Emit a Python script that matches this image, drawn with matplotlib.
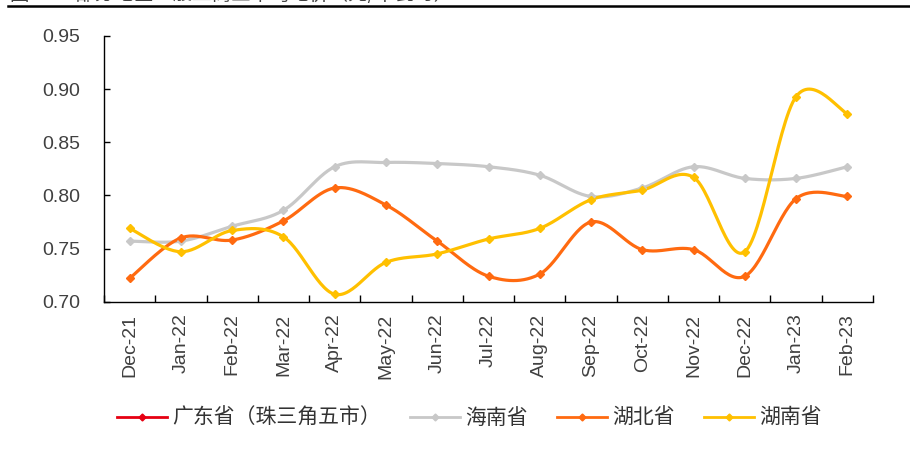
import numpy as np
import matplotlib
matplotlib.use("Agg")
import matplotlib.pyplot as plt
from matplotlib.lines import Line2D

plt.rcParams['font.family'] = ['Liberation Sans', 'Noto Sans CJK SC', 'DejaVu Sans']

months = ["Dec-21", "Jan-22", "Feb-22", "Mar-22", "Apr-22", "May-22", "Jun-22",
          "Jul-22", "Aug-22", "Sep-22", "Oct-22", "Nov-22", "Dec-22", "Jan-23", "Feb-23"]

guangdong = []  # no points plotted for this series
hainan = [0.757, 0.757, 0.771, 0.786, 0.827, 0.831, 0.830, 0.827, 0.819, 0.799,
          0.807, 0.827, 0.816, 0.816, 0.827]
hubei = [0.722, 0.760, 0.758, 0.776, 0.807, 0.791, 0.757, 0.724, 0.726, 0.775,
         0.749, 0.749, 0.724, 0.797, 0.799]
hunan = [0.769, 0.747, 0.767, 0.761, 0.707, 0.737, 0.745, 0.759, 0.769, 0.796,
         0.805, 0.817, 0.747, 0.893, 0.877]

series = [
    ("广东省（珠三角五市）", guangdong, "#E60012"),
    ("海南省", hainan, "#C8C8C8"),
    ("湖北省", hubei, "#FF6A10"),
    ("湖南省", hunan, "#FFC000"),
]


def smooth(xs, ys, n=30):
    """Bezier smoothing through every point (spreadsheet-style smoothed line)."""
    xs = np.asarray(xs, float)
    ys = np.asarray(ys, float)
    if len(xs) < 2:
        return xs, ys
    px = np.concatenate([[xs[0]], xs, [xs[-1]]])
    py = np.concatenate([[ys[0]], ys, [ys[-1]]])
    out_x, out_y = [], []
    t = np.linspace(0, 1, n)
    for i in range(1, len(px) - 2):
        p0 = np.array([px[i], py[i]])
        p3 = np.array([px[i + 1], py[i + 1]])
        c1 = p0 + (np.array([px[i + 1], py[i + 1]]) - np.array([px[i - 1], py[i - 1]])) / 6
        c2 = p3 - (np.array([px[i + 2], py[i + 2]]) - np.array([px[i], py[i]])) / 6
        b = ((1 - t) ** 3)[:, None] * p0 + (3 * (1 - t) ** 2 * t)[:, None] * c1 \
            + (3 * (1 - t) * t ** 2)[:, None] * c2 + (t ** 3)[:, None] * p3
        out_x.extend(b[:, 0])
        out_y.extend(b[:, 1])
    return np.array(out_x), np.array(out_y)


fig = plt.figure(figsize=(9.1, 4.5), dpi=100)
ax = fig.add_axes([104 / 910, 1 - 301.7 / 450, (873 - 104) / 910, (301.7 - 36) / 450])

x = np.arange(len(months))
handles = []
for name, vals, color in series:
    if len(vals):
        sx, sy = smooth(x[:len(vals)], vals)
        ax.plot(sx, sy, color=color, lw=2.3, solid_capstyle='round', zorder=3)
        ax.plot(x[:len(vals)], vals, ls='none', marker='D', ms=4.2, color=color, zorder=4)
    handles.append(Line2D([], [], color=color, lw=2.0, marker='D', ms=3.5, label=name))

ax.set_xlim(-0.5, len(months) - 0.5)
ax.set_ylim(0.70, 0.95)
ax.set_yticks([0.70, 0.75, 0.80, 0.85, 0.90, 0.95])
ax.set_yticklabels([f"{v:.2f}" for v in [0.70, 0.75, 0.80, 0.85, 0.90, 0.95]])
ax.set_xticks(x)
ax.set_xticklabels(months, rotation=90)
ax.set_xticks(np.arange(-0.5, len(months)), minor=True)

ax.tick_params(axis='x', which='major', length=0, pad=8.5, labelsize=14, labelcolor='#404040')
ax.tick_params(axis='x', which='minor', direction='in', length=5, width=1, color='black')
ax.tick_params(axis='y', direction='in', length=4.5, width=1, pad=17, labelsize=14,
               labelcolor='#404040')

for side in ('top', 'right'):
    ax.spines[side].set_visible(False)
for side in ('left', 'bottom'):
    ax.spines[side].set_color('black')
    ax.spines[side].set_linewidth(1.0)

leg = fig.legend(handles=handles, loc='center left', bbox_to_anchor=(117 / 910, 1 - 418 / 450),
                 ncol=4, frameon=False, borderpad=0, borderaxespad=0,
                 handlelength=2.4, handletextpad=0.25, columnspacing=1.4,
                 prop={'family': ['Noto Sans CJK SC', 'DejaVu Sans'], 'size': 15})
for t in leg.get_texts():
    t.set_color('#333333')

# caption above the chart, running past the top edge, and the rule beneath it
fig.text(10 / 910, 1 - 5 / 450, "图 12：部分地区一般工商业平均电价（元/千瓦时）",
         family=['Noto Sans CJK SC', 'DejaVu Sans'], fontsize=14, color='#404040',
         ha='left', va='bottom')
fig.add_artist(Line2D([8 / 910, 1.0], [1 - 5.8 / 450, 1 - 5.8 / 450], color='black', lw=1.8,
                      transform=fig.transFigure))

fig.savefig("out.png", dpi=100)
